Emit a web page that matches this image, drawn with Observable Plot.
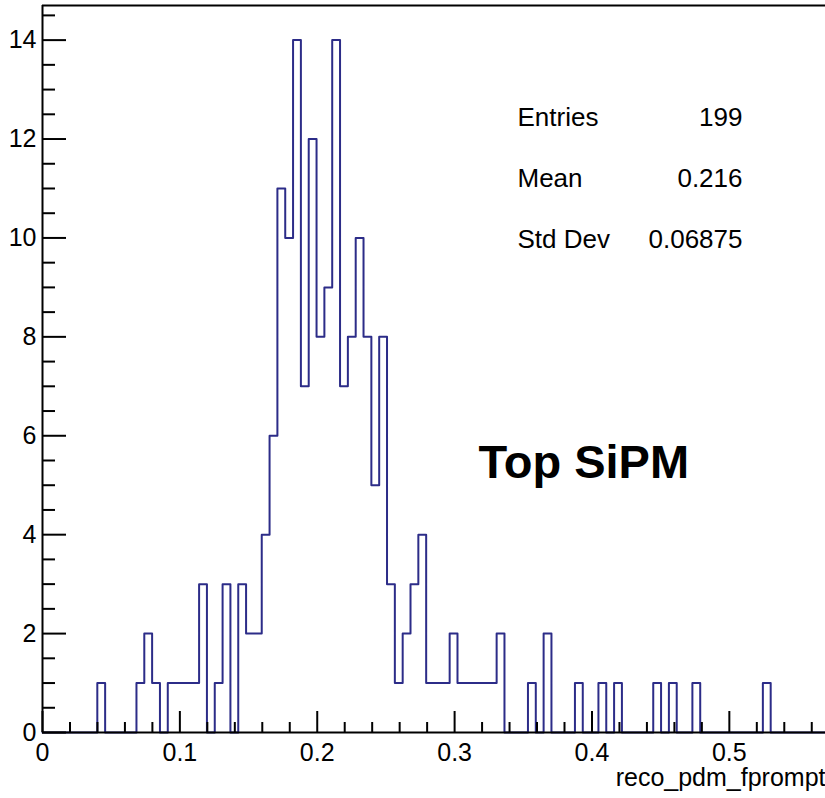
<!DOCTYPE html>
<html><head><meta charset="utf-8">
<script src="https://cdn.jsdelivr.net/npm/d3@7"></script>
<script src="https://cdn.jsdelivr.net/npm/@observablehq/plot@0.6"></script>
<style>html,body{margin:0;padding:0;background:#fff;overflow:hidden}</style>
</head><body><div id="chart"></div>
<script>
// ---- data ----
const xMin = 0, xMax = 0.57, nBins = 100;
const counts = [
  0,0,0,0,0,0,0,1,0,0,
  0,0,1,2,1,0,1,1,1,1,
  3,0,1,3,0,3,2,2,4,6,
  11,10,14,7,12,8,9,14,7,8,
  10,8,5,8,3,1,2,3,4,1,
  1,1,2,1,1,1,1,1,2,0,
  0,0,1,0,2,0,0,0,1,0,
  0,1,0,1,0,0,0,0,1,0,
  1,0,0,1,0,0,0,0,0,0,
  0,0,1,0,0,0,0,0,0,0
];
const xMajorTicks = [0, 0.1, 0.2, 0.3, 0.4, 0.5];
const xTickLabels = ["0", "0.1", "0.2", "0.3", "0.4", "0.5"];
const yMajorTicks = [0, 2, 4, 6, 8, 10, 12, 14];
const yTickLabels = ["0", "2", "4", "6", "8", "10", "12", "14"];
const statNames = ["Entries", "Mean", "Std Dev"];
const statValues = ["199", "0.216", "0.06875"];
const xTitle = "reco_pdm_fprompt";
const annotation = "Top SiPM";
const yMax = 14.7;

// ---- layout ----
const W = 825, H = 798, mL = 42, mT = 5, mB = 66, mR = 0;
const plotW = W - mL - mR, plotH = H - mT - mB;
const font = "'Liberation Sans', Arial, Helvetica, sans-serif";
const lineColor = "#2c2c88";

const binW = (xMax - xMin) / nBins;
const steps = counts.map((c, i) => ({x: xMin + i * binW, y: c}));
steps.push({x: xMax, y: counts[nBins - 1]});
const xMinor = d3.range(1, 29).filter(k => k % 5 !== 0).map(k => k * 0.02);
const yMinor = d3.range(1, 30).filter(k => k % 4 !== 0).map(k => k * 0.5);

const marks = [
  Plot.line(steps, {x: "x", y: "y", curve: "step-after", stroke: lineColor, strokeWidth: 2}),
  Plot.tickY(yMajorTicks, {y: d => d, stroke: "black", strokeWidth: 2, insetRight: plotW - 24}),
  Plot.tickY(yMinor, {y: d => d, stroke: "black", strokeWidth: 2, insetRight: plotW - 13}),
  Plot.tickX(xMajorTicks, {x: d => d, stroke: "black", strokeWidth: 2, insetTop: plotH - 21}),
  Plot.tickX(xMinor, {x: d => d, stroke: "black", strokeWidth: 2, insetTop: plotH - 10}),
  // frame: bottom, top and left edges (right edge falls outside the picture)
  Plot.ruleY([0], {stroke: "black", strokeWidth: 2}),
  Plot.ruleY([yMax], {stroke: "black", strokeWidth: 2}),
  Plot.ruleX([xMin], {stroke: "black", strokeWidth: 2}),
  Plot.axisY({ticks: yMajorTicks, tickFormat: d => yTickLabels[yMajorTicks.indexOf(d)], tickSize: 0, tickPadding: 6, fontSize: 25, label: null, fill: "black"}),
  Plot.axisX({ticks: xMajorTicks, tickFormat: d => xTickLabels[xMajorTicks.indexOf(d)], tickSize: 0, tickPadding: 11, fontSize: 25, label: null, fill: "black"}),
  Plot.text([xTitle], {text: d => d, frameAnchor: "bottom-right", textAnchor: "end", lineAnchor: "bottom", dx: 0, dy: 53, fontSize: 25, fill: "black"}),
  Plot.text([annotation], {text: d => d, frameAnchor: "top-left", textAnchor: "start", lineAnchor: "bottom", dx: 436, dy: 472, fontSize: 47, fontWeight: "bold", fill: "black"})
];
statNames.forEach((name, i) => {
  marks.push(Plot.text([name], {text: d => d, frameAnchor: "top-left", textAnchor: "start", lineAnchor: "bottom", dx: 475, dy: 120 + i * 61, fontSize: 26, fill: "black"}));
  marks.push(Plot.text([statValues[i]], {text: d => d, frameAnchor: "top-left", textAnchor: "end", lineAnchor: "bottom", dx: 700, dy: 120 + i * 61, fontSize: 26, fill: "black"}));
});

const chart = Plot.plot({
  width: W, height: H,
  marginLeft: mL, marginRight: mR, marginTop: mT, marginBottom: mB,
  x: {domain: [xMin, xMax], axis: null},
  y: {domain: [0, yMax], axis: null},
  style: {fontFamily: font, background: "white", color: "black"},
  marks
});
document.getElementById("chart").appendChild(chart);
</script>
</body></html>
